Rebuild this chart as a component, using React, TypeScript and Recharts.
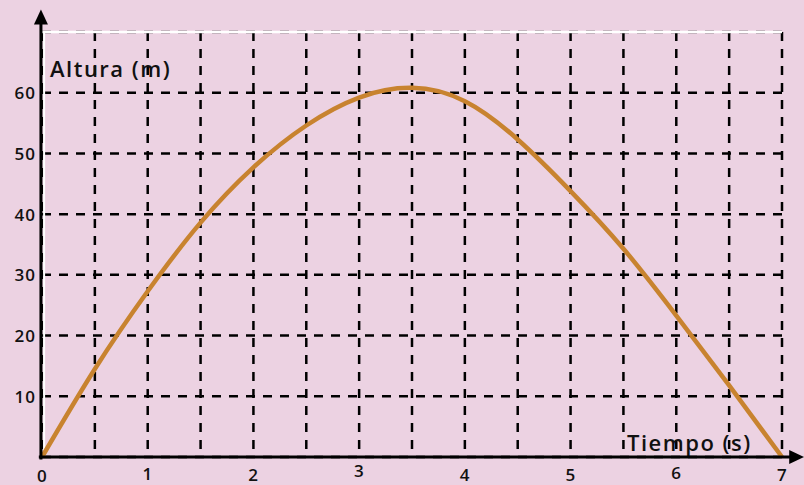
import React from 'react';
import {
  LineChart,
  Line,
  XAxis,
  YAxis,
  CartesianGrid,
  ReferenceLine,
  Customized,
} from 'recharts';

// tiempo (s) y altura (m)
const tiempos = [0, 0.5, 1, 1.5, 2, 2.5, 3, 3.5, 4, 4.5, 5, 5.5, 6, 6.5, 7];
const alturas = [0, 14.5, 27.3, 38.6, 47.7, 54.6, 59.2, 60.8, 58.6, 52.3, 43.8, 34.3, 23.3, 11.8, 0];
const xTicks = [0, 0.5, 1, 1.5, 2, 2.5, 3, 3.5, 4, 4.5, 5, 5.5, 6, 6.5, 7];
const yTicks = [10, 20, 30, 40, 50, 60];

const data = tiempos.map((t, i) => ({ t, h: alturas[i] }));

const FONT = '"Open Sans", sans-serif';
const BG = '#ecd2e2';
const CURVE = '#c8832f';

// small vertical wobble of the hand-placed x labels
const labelShift: Record<number, number> = { 0: 0, 1: -2, 2: -1, 3: -5, 4: -1, 5: -1, 6: -3, 7: -1 };

const XTick = (props: any) => {
  const { x, y, payload } = props;
  const v = payload.value;
  if (!Number.isInteger(v)) return null;
  return (
    <text
      x={x}
      y={y + 10 + (labelShift[v] || 0)}
      textAnchor="middle"
      dominantBaseline="central"
      fontFamily={FONT}
      fontWeight={600}
      fontSize={17}
      letterSpacing={0.5}
      fill="#111"
    >
      {v}
    </text>
  );
};

const YTick = (props: any) => {
  const { x, y, payload } = props;
  return (
    <text
      x={x + 2}
      y={y}
      textAnchor="end"
      dominantBaseline="central"
      fontFamily={FONT}
      fontWeight={600}
      fontSize={17}
      letterSpacing={1}
      fill="#111"
    >
      {payload.value}
    </text>
  );
};

const arrowShape = (props: any) => {
  const { x1, y1, x2, y2 } = props;
  const dx = x2 - x1;
  const dy = y2 - y1;
  const len = Math.sqrt(dx * dx + dy * dy) || 1;
  const ux = dx / len;
  const uy = dy / len;
  const head = 15;
  const half = 7;
  const bx = x2 - ux * head;
  const by = y2 - uy * head;
  const pts = `${x2},${y2} ${bx - uy * half},${by + ux * half} ${bx + uy * half},${by - ux * half}`;
  return (
    <g>
      <line x1={x1} y1={y1} x2={bx + ux * 2} y2={by + uy * 2} stroke="#000" strokeWidth={3} />
      <polygon points={pts} fill="#000" />
    </g>
  );
};

const Titles = () => (
  <g fontFamily={FONT} fontWeight={600} fill="#111">
    <text x={50} y={77} fontSize={22} letterSpacing={1.5}>
      Altura (m)
    </text>
    <text x={627} y={451} fontSize={22} letterSpacing={1.5}>
      Tiempo (s)
    </text>
  </g>
);

export default function App() {
  return (
    <div style={{ position: 'absolute', left: 0, top: 0, width: 804, height: 485, background: BG }}>
      <LineChart
        width={804}
        height={485}
        data={data}
        margin={{ top: 32, right: 22, bottom: 0, left: 0 }}
      >
        <CartesianGrid
          stroke="#000"
          strokeWidth={2.5}
          strokeDasharray="9 8"
          horizontal
          vertical
        />
        <XAxis
          type="number"
          dataKey="t"
          domain={[0, 7]}
          ticks={xTicks}
          axisLine={false}
          tickLine={false}
          height={28}
          tick={<XTick />}
          interval={0}
        />
        <YAxis
          type="number"
          domain={[0, 70]}
          ticks={yTicks}
          axisLine={false}
          tickLine={false}
          width={42}
          tick={<YTick />}
          interval={0}
        />
        <ReferenceLine
          segment={[{ x: 0, y: 70 }, { x: 7, y: 70 }]}
          stroke="#fff"
          strokeWidth={2.5}
          ifOverflow="visible"
        />
        <ReferenceLine
          segment={[{ x: 0.02, y: 0 }, { x: 0.02, y: 70 }]}
          stroke="#fff"
          strokeWidth={2}
          ifOverflow="visible"
        />
        <Line
          type="natural"
          dataKey="h"
          stroke={CURVE}
          strokeWidth={4.5}
          dot={false}
          isAnimationActive={false}
        />
        <ReferenceLine
          segment={[{ x: -0.01, y: -0.4 }, { x: -0.01, y: 73.7 }]}
          shape={arrowShape}
          ifOverflow="visible"
        />
        <ReferenceLine
          segment={[{ x: -0.03, y: 0 }, { x: 7.21, y: 0 }]}
          shape={arrowShape}
          ifOverflow="visible"
        />
        <Customized component={Titles} />
      </LineChart>
    </div>
  );
}
